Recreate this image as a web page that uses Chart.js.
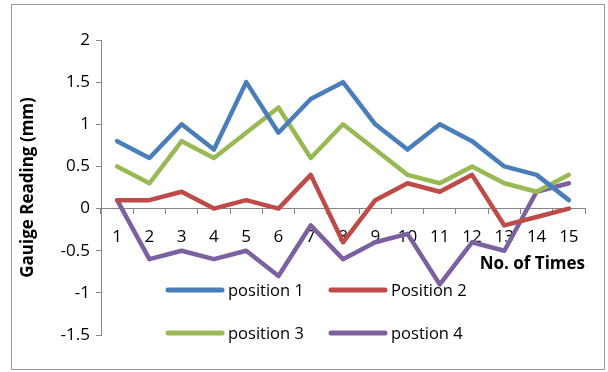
<!DOCTYPE html>
<html>
<head>
<meta charset="utf-8">
<script src="https://cdn.jsdelivr.net/npm/chart.js@4/dist/chart.umd.min.js"></script>
<style>
  html, body { margin: 0; padding: 0; background: #ffffff; }
  #wrap { width: 608px; height: 372px; position: relative; }
</style>
</head>
<body>
<div id="wrap"><canvas id="c" width="608" height="372"></canvas></div>
<script>
// Gauge readings (mm) taken at 15 successive times for four positions
const times = ['1', '2', '3', '4', '5', '6', '7', '8', '9', '10', '11', '12', '13', '14', '15'];
const position1 = [0.8, 0.6, 1.0, 0.7, 1.5, 0.9, 1.3, 1.5, 1.0, 0.7, 1.0, 0.8, 0.5, 0.4, 0.1];
const position2 = [0.1, 0.1, 0.2, 0.0, 0.1, 0.0, 0.4, -0.4, 0.1, 0.3, 0.2, 0.4, -0.2, -0.1, 0.0];
const position3 = [0.5, 0.3, 0.8, 0.6, 0.9, 1.2, 0.6, 1.0, 0.7, 0.4, 0.3, 0.5, 0.3, 0.2, 0.4];
const position4 = [0.1, -0.6, -0.5, -0.6, -0.5, -0.8, -0.2, -0.6, -0.4, -0.3, -0.9, -0.4, -0.5, 0.2, 0.3];
const seriesNames = ['position 1', 'Position 2', 'position 3', 'postion 4'];
const yMin = -1.5, yMax = 2, yStep = 0.5;

const FONT = '"Open Sans", "DejaVu Sans", sans-serif';
const colors = ['#4A7EBB', '#BE4B48', '#98B954', '#7D60A0'];

// Light frame around the whole chart
const framePlugin = {
  id: 'frame',
  beforeDraw(chart) {
    const ctx = chart.ctx;
    ctx.save();
    ctx.fillStyle = '#ffffff';
    ctx.fillRect(0, 0, chart.width, chart.height);
    ctx.strokeStyle = '#9a9a9a';
    ctx.lineWidth = 1;
    ctx.strokeRect(11.5, 4.5, 593, 365);
    ctx.restore();
  }
};

// Legend drawn inside the plot area, two items per row
const insideLegend = {
  id: 'insideLegend',
  afterDraw(chart, args, opts) {
    const ctx = chart.ctx;
    ctx.save();
    ctx.font = opts.font;
    ctx.textBaseline = 'middle';
    ctx.textAlign = 'left';
    chart.data.datasets.forEach((ds, i) => {
      const col = i % 2, row = Math.floor(i / 2);
      const x = opts.colX[col], y = opts.rowY[row];
      ctx.strokeStyle = ds.borderColor;
      ctx.lineWidth = 5;
      ctx.lineCap = 'round';
      ctx.beginPath();
      ctx.moveTo(x, y);
      ctx.lineTo(x + opts.lineLen, y);
      ctx.stroke();
      ctx.fillStyle = '#000000';
      ctx.fillText(ds.label, x + opts.lineLen + 6, y + 1);
    });
    ctx.restore();
  }
};

const seriesData = [position1, position2, position3, position4];
const datasets = seriesData.map((d, i) => ({
  label: seriesNames[i],
  data: d,
  borderColor: colors[i],
  backgroundColor: colors[i],
  borderWidth: 4.5,
  pointRadius: 0,
  pointHoverRadius: 0,
  tension: 0,
  borderJoinStyle: 'round',
  borderCapStyle: 'round',
  fill: false
}));

new Chart(document.getElementById('c'), {
  type: 'line',
  data: { labels: times, datasets },
  options: {
    responsive: false,
    animation: false,
    events: [],
    layout: { padding: { left: 12, top: 40, right: 23, bottom: 37 } },
    plugins: {
      legend: { display: false },
      tooltip: { enabled: false },
      insideLegend: {
        font: '16.5px ' + FONT,
        colX: [168, 331],
        rowY: [290, 333],
        lineLen: 54
      }
    },
    scales: {
      x: {
        type: 'category',
        position: { y: 0 },
        offset: true,
        grid: {
          offset: true,
          drawOnChartArea: false,
          drawTicks: true,
          tickLength: 5,
          color: '#868686'
        },
        border: { display: true, color: '#868686', width: 1 },
        ticks: {
          color: '#000000',
          font: { family: FONT, size: 17 },
          padding: 13,
          maxRotation: 0,
          autoSkip: false
        },
        title: {
          display: true,
          text: 'No. of Times',
          align: 'end',
          color: '#000000',
          font: { family: FONT, size: 17, weight: 'bold' },
          padding: { top: -6, bottom: 0 }
        }
      },
      y: {
        min: yMin,
        max: yMax,
        afterFit(scale) { scale.width = 89; },
        grid: {
          drawOnChartArea: false,
          drawTicks: true,
          tickLength: 5,
          color: '#868686'
        },
        border: { display: true, color: '#868686', width: 1 },
        ticks: {
          stepSize: yStep,
          color: '#000000',
          font: { family: FONT, size: 17 },
          padding: 6,
          callback: (v) => String(Math.round(v * 10) / 10)
        },
        title: {
          display: true,
          text: 'Gauige Reading (mm)',
          color: '#000000',
          font: { family: FONT, size: 17, weight: 'bold' },
          padding: { top: 6, bottom: 0 }
        }
      }
    }
  },
  plugins: [framePlugin, insideLegend]
});
</script>
</body>
</html>
